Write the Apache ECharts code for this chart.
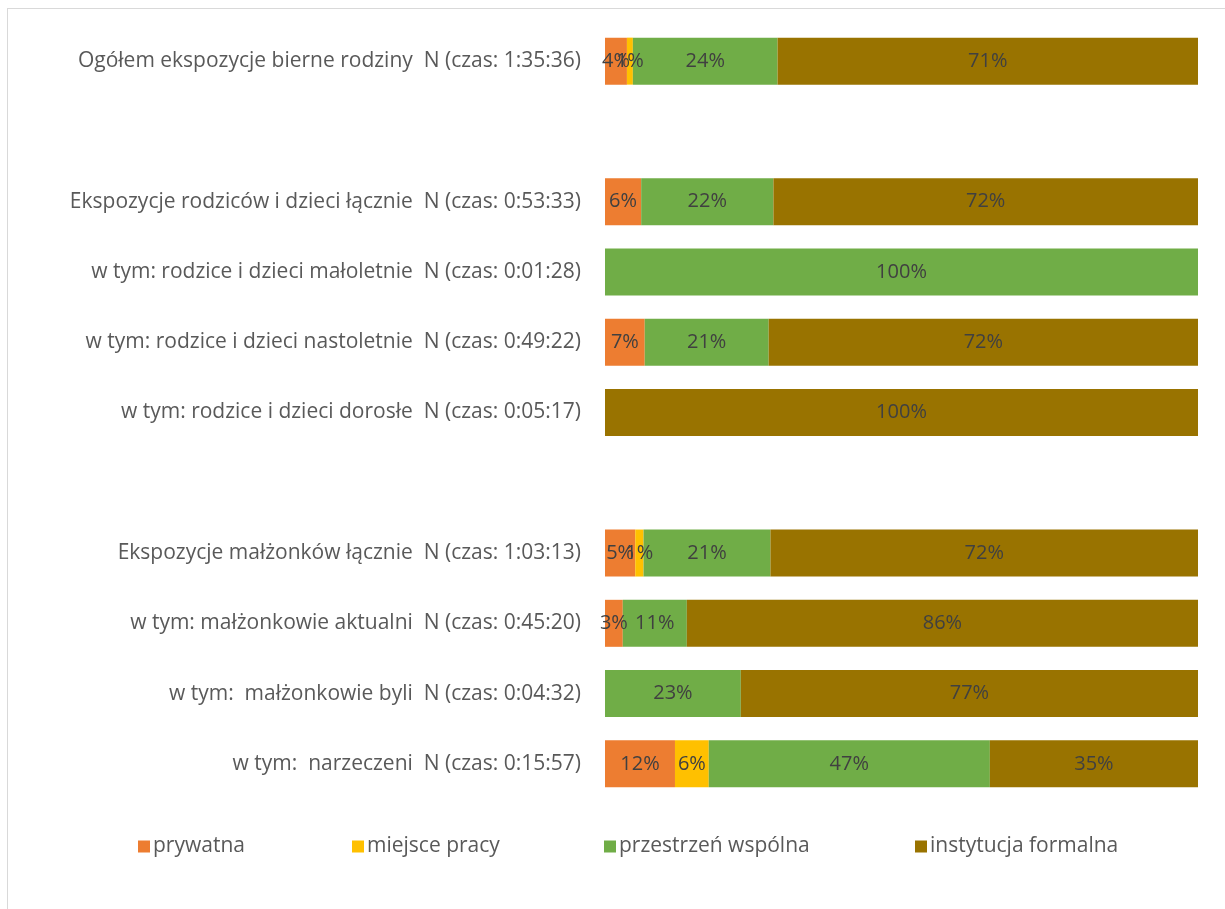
<!DOCTYPE html>
<html>
<head>
<meta charset="utf-8">
<script src="https://cdn.jsdelivr.net/npm/echarts@6/dist/echarts.min.js"></script>
<style>
html,body{margin:0;padding:0;background:#fff;}
#frame{position:absolute;left:7px;top:8px;width:1218px;height:901px;border-top:1px solid #d9d9d9;border-left:1px solid #d9d9d9;}
#chart{position:absolute;left:0;top:0;width:1225px;height:909px;}
</style>
</head>
<body>
<div id="frame"></div>
<div id="chart"></div>
<script>
const categories = [
  'Ogółem ekspozycje bierne rodziny  N (czas: 1:35:36)',
  '',
  'Ekspozycje rodziców i dzieci łącznie  N (czas: 0:53:33)',
  'w tym: rodzice i dzieci małoletnie  N (czas: 0:01:28)',
  'w tym: rodzice i dzieci nastoletnie  N (czas: 0:49:22)',
  'w tym: rodzice i dzieci dorosłe  N (czas: 0:05:17)',
  ' ',
  'Ekspozycje małżonków łącznie  N (czas: 1:03:13)',
  'w tym: małżonkowie aktualni  N (czas: 0:45:20)',
  'w tym:  małżonkowie byli  N (czas: 0:04:32)',
  'w tym:  narzeczeni  N (czas: 0:15:57)'
];
const seriesNames = ['prywatna', 'miejsce pracy', 'przestrzeń wspólna', 'instytucja formalna'];
const prywatna      = [3.7, 0, 6.1, 0,   6.7, 0,   0, 5.1, 3.0, 0,    11.8];
const miejscePracy  = [1.0, 0, 0,   0,   0,   0,   0, 1.4, 0,   0,    5.7];
const przestrzen    = [24.4,0, 22.3,100, 20.9,0,   0, 21.4,10.8,22.9, 47.4];
const instytucja    = [70.9,0, 71.6,0,   72.4,100, 0, 72.1,86.2,77.1, 35.1];
const colors = ['#ED7D31', '#FFC000', '#70AD47', '#997300'];
const seriesData = [prywatna, miejscePracy, przestrzen, instytucja];

const chart = echarts.init(document.getElementById('chart'), null, {renderer: 'canvas'});
const font = 'Open Sans';
const legendLefts = [133, 347, 599, 910];
chart.setOption({
  animation: false,
  grid: {left: 605, right: 27, top: 26, bottom: 110, containLabel: false},
  xAxis: {type: 'value', min: 0, max: 100, show: false},
  yAxis: {
    type: 'category', data: categories, inverse: true,
    axisLine: {show: false}, axisTick: {show: false}, splitLine: {show: false},
    axisLabel: {color: '#595959', fontSize: 21, fontFamily: font, margin: 24}
  },
  legend: seriesNames.map((n, i) => ({
    data: [n], left: legendLefts[i], top: 831, itemWidth: 12, itemHeight: 12,
    icon: 'rect', itemGap: 0,
    textStyle: {color: '#595959', fontSize: 21, fontFamily: font, padding: [0, 0, 0, -2]}
  })),
  series: seriesNames.map((n, i) => ({
    name: n, type: 'bar', stack: 'total', barWidth: 47,
    data: seriesData[i],
    itemStyle: {color: colors[i]},
    label: {
      show: true, position: 'inside', color: '#404040', fontSize: 20, fontFamily: font,
      formatter: p => p.value > 0 ? Math.round(p.value) + '%' : ''
    }
  }))
});
</script>
</body>
</html>
